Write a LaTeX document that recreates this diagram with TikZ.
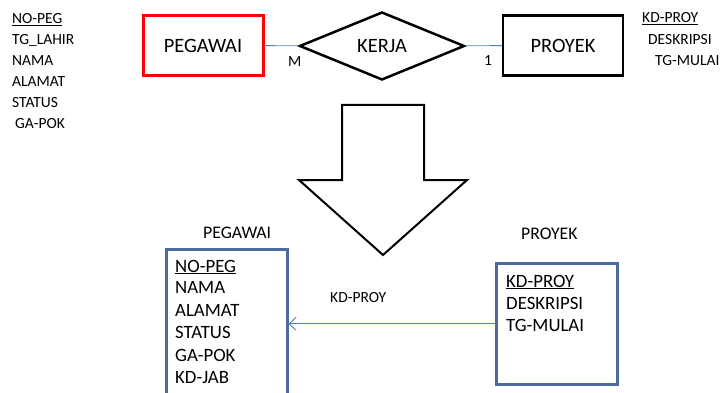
\documentclass[tikz,border=0pt]{standalone}
\usepackage{fontspec}
\setmainfont{Carlito}
\usetikzlibrary{shapes.geometric,arrows.meta}
\definecolor{tblblue}{HTML}{4A6B9C}
\definecolor{lnblue}{HTML}{4F81BD}

\begin{document}
\begin{tikzpicture}[x=1pt,y=-1pt,
    ent/.style={draw, line width=2.5pt, minimum width=120pt, minimum height=60pt, inner sep=0pt, font=\fontsize{20.4}{24}\selectfont},
    attr/.style={anchor=base west, inner sep=0pt, font=\fontsize{15.5}{18}\selectfont},
    fld/.style={anchor=base west, inner sep=0pt, font=\fontsize{18.8}{22}\selectfont},
    tbl/.style={draw=tblblue, line width=2.5pt, anchor=north west, inner sep=0pt},
    link/.style={draw=lnblue, line width=0.9pt}]
  \useasboundingbox (0,0) rectangle (723,393);
  \clip (0,0) rectangle (723,393);
  % ER diagram
  \node[ent, draw=red, line width=3pt] (peg) at (203,45.5) {PEGAWAI};
  \node[draw, diamond, line width=2.5pt, aspect=2.43, minimum width=165pt, minimum height=68pt, inner sep=0pt, font=\fontsize{20.4}{24}\selectfont] (kerja) at (382,46) {KERJA};
  \node[ent] (proy) at (563,45.5) {PROYEK};
  \draw[link] (peg) -- (kerja);
  \draw[link] (kerja) -- (proy);
  \node[attr] (m) at (288,67) {M};
  \node[attr] (one) at (484,66) {1};
  \foreach \t/\x/\y [count=\i] in {\underline{NO-PEG}/12/24, TG\_LAHIR/12/45, NAMA/12/66, ALAMAT/12/87, STATUS/12/108, GA-POK/15/129}
    \node[attr] (pa\i) at (\x,\y) {\t};
  \foreach \t/\x/\y [count=\i] in {\underline{KD-PROY}/642/23, DESKRIPSI/648/45, TG-MULAI/655/66}
    \node[attr] (pr\i) at (\x,\y) {\t};
  % big arrow
  \draw[line width=2pt, line join=miter] (342,105) -- (424,105) -- (424,180) -- (467,180) -- (383,255) -- (299,180) -- (342,180) -- cycle;
  % tables
  \node[fld, font=\fontsize{17.7}{20}\selectfont] (tpeg) at (203,238) {PEGAWAI};
  \node[fld, font=\fontsize{17.7}{20}\selectfont] (tproy) at (521,239) {PROYEK};
  \node[tbl, minimum width=121pt, minimum height=170pt] (pegb) at (165,248) {};
  \node[tbl, minimum width=121pt, minimum height=121pt] (proyb) at (495,262) {};
  \foreach \t/\y [count=\i] in {\underline{NO-PEG}/272, NAMA/293.5, ALAMAT/316, STATUS/338, GA-POK/361, KD-JAB/383}
    \node[fld] (fp\i) at (175,\y) {\t};
  \foreach \t/\y [count=\i] in {\underline{KD-PROY}/287, DESKRIPSI/309, TG-MULAI/331}
    \node[fld] (fr\i) at (506,\y) {\t};
  \draw[link, -{Straight Barb[length=7pt, width=13pt]}] (proyb) -- (pegb.east |- proyb);
  \node[attr] (fk) at (330,302) {KD-PROY};
\end{tikzpicture}
\end{document}
